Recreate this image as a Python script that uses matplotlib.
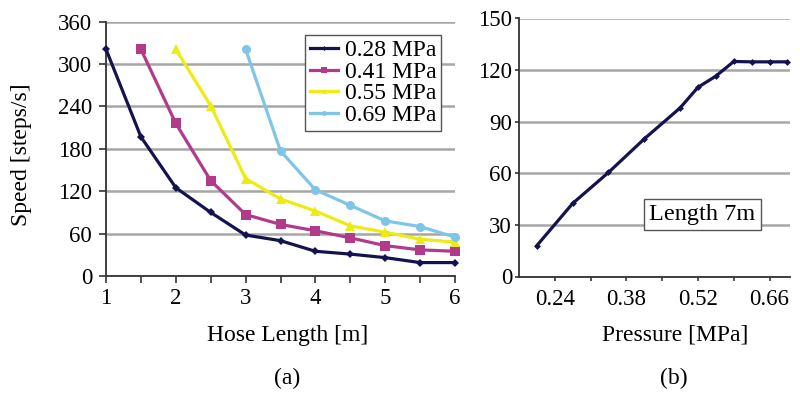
import matplotlib
matplotlib.use("Agg")
import matplotlib.pyplot as plt
from matplotlib.ticker import MultipleLocator, FixedLocator, FuncFormatter

plt.rcParams['font.family'] = ['Liberation Serif', 'DejaVu Serif']

# ---- data (a) ----
hose_len = [1, 1.5, 2, 2.5, 3, 3.5, 4, 4.5, 5, 5.5, 6]
speed_028 = [321, 197, 125, 90, 58, 50, 35, 31, 26, 19, 19]
len_041 = [1.5, 2, 2.5, 3, 3.5, 4, 4.5, 5, 5.5, 6]
speed_041 = [321, 216, 135, 87, 73, 64, 54, 43, 37, 35]
len_055 = [2, 2.5, 3, 3.5, 4, 4.5, 5, 5.5, 6]
speed_055 = [321, 241, 138, 109, 92, 71, 62, 52, 48]
len_069 = [3, 3.5, 4, 4.5, 5, 5.5, 6]
speed_069 = [321, 177, 122, 100, 78, 70, 55]
series_labels = ['0.28 MPa', '0.41 MPa', '0.55 MPa', '0.69 MPa']

# ---- data (b) ----
pressure = [0.205, 0.275, 0.345, 0.415, 0.485, 0.52, 0.555, 0.59, 0.625, 0.66, 0.695]
speed_7m = [18, 42.5, 60.5, 80, 98, 110, 116.5, 125, 124.8, 124.8, 124.8]
pressure_ticks = [0.24, 0.38, 0.52, 0.66]

W, H = 800, 400
fig = plt.figure(figsize=(8, 4), dpi=100)

def rect(x0, x1, y_top, y_bot):
    return [x0 / W, 1 - y_bot / H, (x1 - x0) / W, (y_bot - y_top) / H]

grid_c = '#a6a6a6'
spine_c = '#333333'
tick_fs = 16.5
lab_fs = 17

# ---------- (a) ----------
ax1 = fig.add_axes(rect(106, 455, 21.7, 276))
colors = ['#15134f', '#b23a8b', '#ecec14', '#7fc6e6']
markers = ['D', 's', '^', 'o']
msizes = [4.5, 7, 6.5, 6.5]
xs = [hose_len, len_041, len_055, len_069]
ys = [speed_028, speed_041, speed_055, speed_069]
for x, y, c, m, ms, lab in zip(xs, ys, colors, markers, msizes, series_labels):
    ax1.plot(x, y, color=c, marker=m, markersize=ms, lw=2.3, label=lab,
             markeredgewidth=0, clip_on=False, zorder=3)
ax1.set_xlim(1, 6)
ax1.set_ylim(0, 360)
ax1.yaxis.set_major_locator(MultipleLocator(60))
ax1.xaxis.set_major_locator(MultipleLocator(1))
ax1.xaxis.set_minor_locator(MultipleLocator(0.5))
ax1.grid(axis='y', color=grid_c, lw=1.8)
ax1.set_axisbelow(True)
for s in ['top', 'right']:
    ax1.spines[s].set_visible(False)
for s in ['left', 'bottom']:
    ax1.spines[s].set_color(spine_c)
    ax1.spines[s].set_linewidth(1.3)
ax1.tick_params(axis='both', which='both', direction='out', length=5, width=1.2,
                color=spine_c, labelsize=tick_fs)
ax1.tick_params(axis='y', pad=5)
ax1.tick_params(axis='x', pad=4)
leg = ax1.legend(loc='upper left', bbox_to_anchor=((305 - 106) / 349, 1 - (35 - 21.7) / 254.3),
                 frameon=True, fancybox=False, fontsize=17, handlelength=1.2,
                 handletextpad=0.3, labelspacing=0.0, borderpad=0.2, borderaxespad=0,
                 markerscale=0.55)
leg.get_frame().set_edgecolor('#555555')
leg.get_frame().set_linewidth(1.0)
leg.get_frame().set_alpha(1)
fig.text(22 / W, 1 - 155 / H, 'Speed [steps/s]', rotation=90, ha='center', va='center',
         fontsize=lab_fs)
fig.text(288 / W, 1 - 335 / H, 'Hose Length [m]', ha='center', va='center', fontsize=lab_fs)
fig.text(287 / W, 1 - 378 / H, '(a)', ha='center', va='center', fontsize=lab_fs)

# ---------- (b) ----------
ax2 = fig.add_axes(rect(519, 790, 18.5, 276.5))
ax2.plot(pressure, speed_7m, color='#15134f', marker='D', markersize=3.5, lw=2.3,
         markeredgewidth=0, clip_on=False, zorder=3)
ax2.set_xlim(0.17, 0.70)
ax2.set_ylim(0, 150)
ax2.yaxis.set_major_locator(MultipleLocator(30))
ax2.xaxis.set_major_locator(FixedLocator(pressure_ticks))
ax2.xaxis.set_minor_locator(FixedLocator([0.31, 0.45, 0.59]))
ax2.xaxis.set_major_formatter(FuncFormatter(lambda v, p: f'{v:.2f}'))
ax2.grid(axis='y', color=grid_c, lw=1.8)
ax2.set_axisbelow(True)
for s in ['top', 'right']:
    ax2.spines[s].set_visible(False)
for s in ['left', 'bottom']:
    ax2.spines[s].set_color(spine_c)
    ax2.spines[s].set_linewidth(1.3)
ax2.tick_params(axis='both', which='both', direction='out', length=3, width=1.2,
                color=spine_c, labelsize=tick_fs)
ax2.tick_params(axis='y', pad=2)
ax2.tick_params(axis='x', pad=6)
bx = 0.5 * (641.7 + 763 - 2 * 519) / (790 - 519)
by = (276.5 - 214.5) / (276.5 - 18.5)
ax2.text(bx, by, 'Length 7m', transform=ax2.transAxes, fontsize=17.5, ha='center', va='center',
         bbox=dict(boxstyle='square,pad=0.22', fc='white', ec='#555555', lw=1.0))
fig.text(675 / W, 1 - 335 / H, 'Pressure [MPa]', ha='center', va='center', fontsize=lab_fs)
fig.text(674 / W, 1 - 378 / H, '(b)', ha='center', va='center', fontsize=lab_fs)

fig.savefig('out.png', dpi=100)
